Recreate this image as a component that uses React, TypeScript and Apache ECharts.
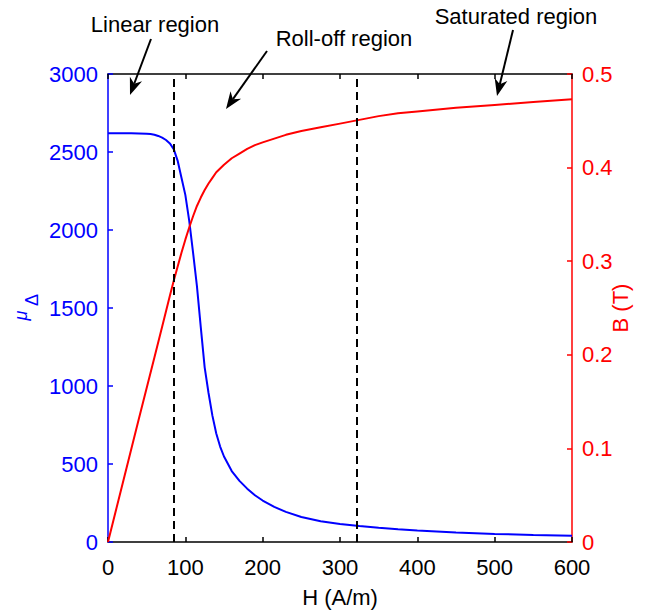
import React, { useEffect, useRef } from "react";
import * as echarts from "echarts";

// Incremental permeability μΔ versus field strength H
const H_MU = [0, 10, 20, 30, 40, 50, 55, 60, 65, 70, 75, 80, 85, 90, 95, 100, 105, 110, 115, 120, 125, 130, 135, 140, 145, 150, 160, 170, 180, 190, 200, 215, 230, 250, 275, 300, 325, 350, 375, 400, 450, 500, 550, 600];
const MU = [2620, 2620, 2620, 2620, 2619, 2617, 2615, 2611, 2603, 2592, 2577, 2555, 2518, 2445, 2335, 2225, 2060, 1855, 1640, 1376, 1120, 955, 810, 695, 612, 548, 455, 392, 342, 300, 266, 225, 193, 160, 133, 116, 102, 91, 81, 73, 61, 52, 45, 40];

// Flux density B (T) versus field strength H
const H_B = [0, 20, 40, 60, 70, 80, 85, 90, 95, 100, 105, 110, 115, 120, 125, 130, 135, 140, 150, 160, 170, 180, 190, 200, 215, 230, 250, 275, 300, 325, 350, 375, 400, 450, 500, 550, 600];
const B = [0, 0.066, 0.132, 0.197, 0.23, 0.263, 0.279, 0.294, 0.309, 0.323, 0.336, 0.348, 0.359, 0.368, 0.376, 0.383, 0.389, 0.395, 0.403, 0.41, 0.415, 0.42, 0.424, 0.427, 0.431, 0.435, 0.439, 0.443, 0.447, 0.451, 0.455, 0.458, 0.46, 0.464, 0.467, 0.47, 0.473];

// Boundaries between the linear, roll-off and saturated regions (A/m)
const REGION_BOUNDS = [85, 322];

const REGION_LABELS = ["Linear region", "Roll-off region", "Saturated region"];

const BLUE = "#0000ff";
const RED = "#ff0000";
const FONT = "Liberation Sans, Arial, sans-serif";

type Pt = [number, number];

function arrow(tail: Pt, tip: Pt): any[] {
  const dx = tip[0] - tail[0];
  const dy = tip[1] - tail[1];
  const L = Math.hypot(dx, dy);
  const ux = dx / L;
  const uy = dy / L;
  const px = -uy;
  const py = ux;
  const len = 17;
  const half = 6.5;
  const notch = 5;
  const bx = tip[0] - ux * len;
  const by = tip[1] - uy * len;
  const nx = tip[0] - ux * (len - notch);
  const ny = tip[1] - uy * (len - notch);
  return [
    {
      type: "line",
      shape: { x1: tail[0], y1: tail[1], x2: nx, y2: ny },
      style: { stroke: "#000", lineWidth: 2 },
      silent: true,
    },
    {
      type: "polygon",
      shape: {
        points: [
          [tip[0], tip[1]],
          [bx + px * half, by + py * half],
          [nx, ny],
          [bx - px * half, by - py * half],
        ],
      },
      style: { fill: "#000" },
      silent: true,
    },
  ];
}

export default function App() {
  const ref = useRef<HTMLDivElement>(null);

  useEffect(() => {
    if (!ref.current) return;
    const chart = echarts.init(ref.current, undefined, { renderer: "svg" });

    const muData = H_MU.map((h, i) => [h, MU[i]]);
    const bData = H_B.map((h, i) => [h, B[i]]);

    const labelPos: Pt[] = [
      [155, 24],
      [344, 38],
      [516, 16],
    ];

    const option: any = {
      animation: false,
      backgroundColor: "#fff",
      grid: { left: 108, right: 97, top: 74, bottom: 74, containLabel: false },
      xAxis: [
        {
          type: "value",
          position: "bottom",
          min: 0,
          max: 600,
          interval: 100,
          name: "H (A/m)",
          nameLocation: "middle",
          nameGap: 44,
          nameTextStyle: { fontFamily: FONT, fontSize: 22, color: "#000" },
          axisLine: { show: true, onZero: false, lineStyle: { color: "#000", width: 1.5 } },
          axisTick: { show: true, inside: true, length: 5, lineStyle: { color: "#000", width: 1.5 } },
          axisLabel: { fontFamily: FONT, fontSize: 22, color: "#000", margin: 14 },
          splitLine: { show: false },
        },
        {
          type: "value",
          position: "top",
          min: 0,
          max: 600,
          interval: 100,
          axisLine: { show: true, onZero: false, lineStyle: { color: "#000", width: 1.5 } },
          axisTick: { show: true, inside: true, length: 5, lineStyle: { color: "#000", width: 1.5 } },
          axisLabel: { show: false },
          splitLine: { show: false },
        },
      ],
      yAxis: [
        {
          type: "value",
          position: "left",
          min: 0,
          max: 3000,
          interval: 500,
          axisLine: { show: true, onZero: false, lineStyle: { color: BLUE, width: 1.5 } },
          axisTick: { show: true, inside: true, length: 5, lineStyle: { color: BLUE, width: 1.5 } },
          axisLabel: {
            fontFamily: FONT,
            fontSize: 22,
            color: BLUE,
            margin: 10,
            formatter: (v: number) => String(v),
          },
          splitLine: { show: false },
        },
        {
          type: "value",
          position: "right",
          min: 0,
          max: 0.5,
          interval: 0.1,
          name: "B (T)",
          nameLocation: "middle",
          nameRotate: 90,
          nameGap: 37,
          nameMoveOverlap: false,
          nameTextStyle: { fontFamily: FONT, fontSize: 22, color: RED },
          axisLine: { show: true, onZero: false, lineStyle: { color: RED, width: 1.5 } },
          axisTick: { show: true, inside: true, length: 5, lineStyle: { color: RED, width: 1.5 } },
          axisLabel: {
            fontFamily: FONT,
            fontSize: 22,
            color: RED,
            margin: 10,
            formatter: (v: number) => (v === 0 ? "0" : v.toFixed(1)),
          },
          splitLine: { show: false },
        },
      ],
      series: [
        {
          name: "μΔ",
          type: "line",
          xAxisIndex: 0,
          yAxisIndex: 0,
          data: muData,
          showSymbol: false,
          smooth: false,
          lineStyle: { color: BLUE, width: 2 },
          itemStyle: { color: BLUE },
          z: 3,
        },
        {
          name: "B",
          type: "line",
          xAxisIndex: 0,
          yAxisIndex: 1,
          data: bData,
          showSymbol: false,
          smooth: false,
          lineStyle: { color: RED, width: 2 },
          itemStyle: { color: RED },
          z: 3,
          markLine: {
            silent: true,
            symbol: ["none", "none"],
            label: { show: false },
            lineStyle: { color: "#000", type: [8, 5], width: 2 },
            data: REGION_BOUNDS.map((h) => ({ xAxis: h })),
          },
        },
      ],
      graphic: [
        // rotated left-axis title: μ with subscript Δ
        {
          type: "group",
          x: 26,
          y: 308,
          rotation: Math.PI / 2,
          children: [
            {
              type: "text",
              x: -7.5,
              y: -5,
              style: {
                text: "μ",
                fill: BLUE,
                font: `italic 18px ${FONT}`,
                textAlign: "center",
                textVerticalAlign: "middle",
              },
            },
            {
              type: "text",
              x: 8,
              y: 5.5,
              style: {
                text: "Δ",
                fill: BLUE,
                font: `18px ${FONT}`,
                textAlign: "center",
                textVerticalAlign: "middle",
              },
            },
          ],
        },
        ...REGION_LABELS.map((t, i) => ({
          type: "text",
          x: labelPos[i][0],
          y: labelPos[i][1],
          style: {
            text: t,
            fill: "#000",
            font: `22px ${FONT}`,
            textAlign: "center",
            textVerticalAlign: "middle",
          },
        })),
        ...arrow([151, 39], [130, 95]),
        ...arrow([267, 51], [226, 109]),
        ...arrow([513, 30], [497, 96]),
      ],
    };

    chart.setOption(option);
    return () => chart.dispose();
  }, []);

  return (
    <div
      ref={ref}
      style={{ position: "fixed", left: 0, top: 0, width: 669, height: 616, background: "#fff" }}
    />
  );
}
